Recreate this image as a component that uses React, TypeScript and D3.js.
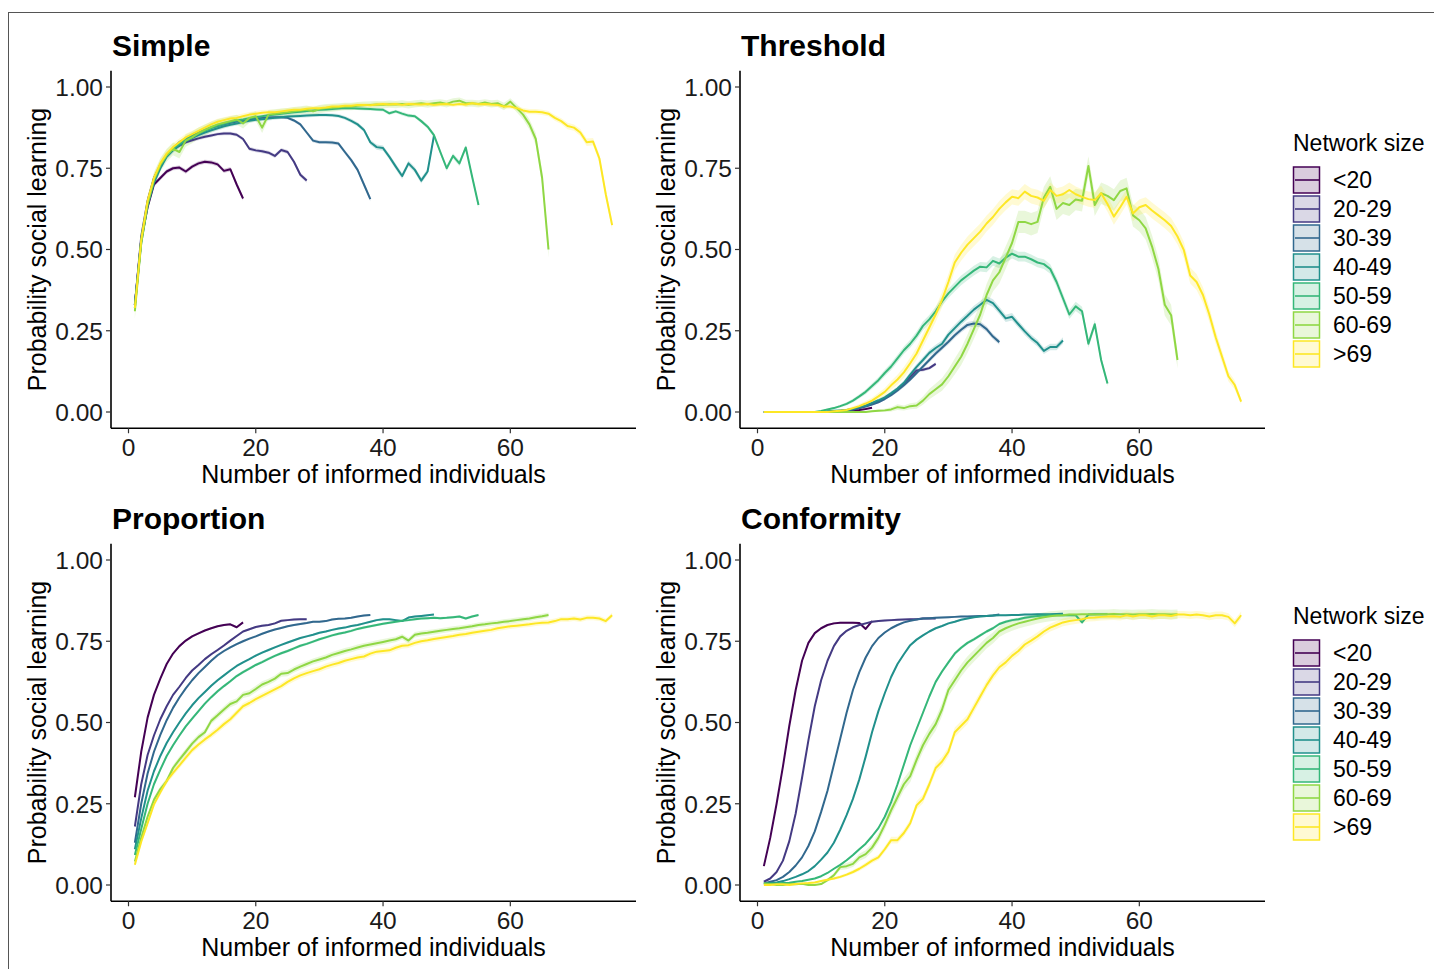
import React from 'react';
import * as d3 from 'd3';

const groups = ['<20', '20-29', '30-39', '40-49', '50-59', '60-69', '>69'];
const colors = ['#440154', '#443A83', '#31688E', '#21908C', '#35B779', '#8FD744', '#FDE725'];
const xTicks = [0, 20, 40, 60];
const yTicks = [0, 0.25, 0.5, 0.75, 1];
const yTickLabels = ['0.00', '0.25', '0.50', '0.75', '1.00'];

// Simple
const simple_lt20 = [0.33,0.53,0.63,0.70,0.72,0.74,0.75,0.752,0.74,0.755,0.765,0.77,0.768,0.762,0.742,0.747,0.70,0.657];
const simple_20_29 = [0.33,0.54,0.65,0.72,0.76,0.79,0.81,0.82,0.83,0.836,0.842,0.847,0.851,0.855,0.857,0.857,0.853,0.84,0.81,0.805,0.802,0.798,0.788,0.806,0.80,0.77,0.73,0.712];
const simple_30_39 = [0.33,0.53,0.64,0.71,0.76,0.79,0.81,0.83,0.84,0.85,0.86,0.868,0.875,0.88,0.885,0.89,0.894,0.897,0.9,0.903,0.905,0.906,0.907,0.907,0.905,0.897,0.885,0.86,0.835,0.83,0.83,0.829,0.826,0.80,0.775,0.745,0.70,0.655];
const simple_40_49 = [0.33,0.52,0.635,0.705,0.75,0.785,0.805,0.82,0.833,0.843,0.852,0.86,0.867,0.873,0.879,0.884,0.888,0.892,0.896,0.899,0.901,0.903,0.905,0.907,0.909,0.91,0.911,0.912,0.913,0.914,0.914,0.913,0.911,0.905,0.896,0.885,0.868,0.83,0.815,0.812,0.785,0.755,0.726,0.765,0.745,0.712,0.74,0.85];
const simple_50_59 = [0.32,0.53,0.645,0.715,0.76,0.79,0.81,0.825,0.838,0.848,0.857,0.866,0.874,0.881,0.887,0.892,0.897,0.9,0.904,0.907,0.91,0.913,0.915,0.918,0.92,0.922,0.924,0.926,0.928,0.93,0.931,0.932,0.934,0.935,0.935,0.934,0.933,0.932,0.931,0.93,0.919,0.925,0.918,0.912,0.91,0.895,0.878,0.852,0.80,0.75,0.788,0.765,0.814,0.724,0.637];
const simple_60_69 = [0.31,0.52,0.64,0.715,0.76,0.79,0.81,0.80,0.835,0.845,0.858,0.868,0.877,0.885,0.89,0.895,0.9,0.888,0.905,0.91,0.875,0.915,0.918,0.92,0.922,0.925,0.928,0.93,0.925,0.932,0.935,0.936,0.938,0.94,0.94,0.942,0.944,0.945,0.946,0.945,0.947,0.946,0.948,0.945,0.948,0.95,0.947,0.95,0.952,0.948,0.955,0.958,0.95,0.95,0.948,0.952,0.948,0.95,0.94,0.955,0.935,0.915,0.885,0.84,0.72,0.50];
const simple_gt69 = [0.32,0.53,0.65,0.72,0.765,0.795,0.815,0.83,0.845,0.855,0.865,0.875,0.885,0.893,0.898,0.903,0.905,0.91,0.915,0.918,0.921,0.922,0.922,0.925,0.928,0.93,0.93,0.933,0.935,0.935,0.937,0.94,0.94,0.942,0.942,0.945,0.945,0.944,0.946,0.948,0.946,0.948,0.945,0.948,0.947,0.946,0.948,0.945,0.947,0.948,0.945,0.948,0.946,0.95,0.947,0.948,0.946,0.945,0.94,0.94,0.935,0.928,0.924,0.924,0.922,0.918,0.905,0.895,0.88,0.875,0.86,0.83,0.832,0.78,0.67,0.575];

// Threshold
const thr_lt20 = [0,0,0,0,0,0,0,0,0,0,0,0,0.001,0.002,0.004,0.006,0.009,0.013];
const thr_20_29 = [0,0,0,0,0,0,0,0,0,0,0,0.002,0.003,0.005,0.008,0.012,0.018,0.025,0.033,0.043,0.055,0.07,0.088,0.108,0.128,0.13,0.135,0.148];
const thr_30_39 = [0,0,0,0,0,0,0,0,0,0,0,0.002,0.003,0.005,0.008,0.012,0.017,0.023,0.03,0.04,0.052,0.066,0.082,0.1,0.12,0.14,0.16,0.18,0.198,0.216,0.236,0.253,0.268,0.272,0.27,0.255,0.232,0.215];
const thr_40_49 = [0,0,0,0,0,0,0,0,0,0,0.002,0.004,0.005,0.006,0.01,0.015,0.02,0.028,0.036,0.045,0.058,0.072,0.09,0.115,0.139,0.16,0.182,0.197,0.21,0.238,0.258,0.278,0.296,0.315,0.33,0.345,0.335,0.312,0.288,0.293,0.27,0.248,0.228,0.212,0.188,0.2,0.2,0.22];
const thr_50_59 = [0,0,0,0,0,0,0,0,0,0.003,0.008,0.012,0.018,0.025,0.035,0.048,0.062,0.08,0.098,0.12,0.14,0.165,0.19,0.21,0.235,0.265,0.285,0.31,0.34,0.365,0.385,0.405,0.42,0.435,0.447,0.445,0.465,0.457,0.475,0.487,0.478,0.478,0.47,0.46,0.455,0.44,0.40,0.35,0.30,0.325,0.31,0.21,0.27,0.16,0.088];
const thr_60_69 = [0,0,0,0,0,0,0,0,0,0,0,0,0,0,0,0,0,0.002,0.004,0.005,0.008,0.015,0.012,0.018,0.02,0.035,0.055,0.07,0.085,0.11,0.14,0.17,0.21,0.255,0.30,0.36,0.405,0.43,0.475,0.52,0.585,0.585,0.578,0.585,0.66,0.693,0.625,0.643,0.637,0.654,0.65,0.757,0.637,0.673,0.665,0.652,0.68,0.688,0.605,0.59,0.565,0.509,0.44,0.33,0.298,0.16];
const thr_gt69 = [0,0,0,0,0,0,0,0,0,0,0,0.002,0.004,0.006,0.012,0.018,0.026,0.035,0.048,0.062,0.082,0.1,0.122,0.15,0.18,0.22,0.26,0.30,0.345,0.40,0.46,0.49,0.515,0.535,0.555,0.58,0.60,0.625,0.645,0.662,0.658,0.678,0.665,0.66,0.65,0.683,0.665,0.67,0.683,0.67,0.662,0.655,0.652,0.673,0.64,0.601,0.63,0.662,0.611,0.63,0.637,0.62,0.605,0.59,0.572,0.54,0.498,0.42,0.40,0.36,0.30,0.23,0.17,0.11,0.083,0.032];

// Proportion
const prop_lt20 = [0.27,0.41,0.515,0.585,0.635,0.68,0.712,0.735,0.752,0.765,0.774,0.783,0.79,0.796,0.80,0.802,0.793,0.808];
const prop_20_29 = [0.18,0.31,0.40,0.46,0.51,0.55,0.585,0.61,0.637,0.66,0.677,0.695,0.71,0.723,0.737,0.752,0.766,0.78,0.787,0.794,0.798,0.80,0.805,0.813,0.815,0.817,0.818,0.818];
const prop_30_39 = [0.13,0.25,0.343,0.41,0.462,0.507,0.545,0.577,0.605,0.63,0.652,0.671,0.69,0.707,0.72,0.731,0.741,0.75,0.758,0.765,0.773,0.78,0.786,0.791,0.796,0.80,0.803,0.806,0.81,0.81,0.812,0.817,0.819,0.82,0.822,0.826,0.829,0.831];
const prop_40_49 = [0.11,0.205,0.29,0.35,0.397,0.437,0.47,0.5,0.528,0.553,0.575,0.594,0.613,0.63,0.645,0.66,0.674,0.685,0.695,0.706,0.715,0.723,0.731,0.739,0.746,0.753,0.76,0.765,0.77,0.776,0.78,0.785,0.789,0.792,0.797,0.80,0.805,0.81,0.815,0.818,0.818,0.815,0.812,0.823,0.826,0.828,0.83,0.832];
const prop_50_59 = [0.092,0.172,0.25,0.31,0.355,0.397,0.43,0.46,0.488,0.512,0.535,0.558,0.578,0.596,0.612,0.627,0.643,0.655,0.666,0.677,0.686,0.696,0.705,0.713,0.72,0.728,0.736,0.742,0.749,0.756,0.762,0.768,0.773,0.777,0.782,0.788,0.792,0.796,0.80,0.804,0.807,0.81,0.813,0.815,0.818,0.82,0.821,0.822,0.821,0.822,0.824,0.826,0.82,0.826,0.831];
const prop_60_69 = [0.072,0.145,0.21,0.262,0.295,0.32,0.36,0.386,0.41,0.435,0.455,0.47,0.505,0.522,0.54,0.557,0.565,0.585,0.59,0.603,0.617,0.625,0.635,0.65,0.652,0.663,0.672,0.68,0.688,0.694,0.70,0.708,0.714,0.72,0.725,0.731,0.736,0.74,0.744,0.748,0.752,0.756,0.764,0.752,0.77,0.774,0.776,0.779,0.782,0.785,0.788,0.79,0.793,0.796,0.80,0.802,0.805,0.807,0.81,0.812,0.815,0.818,0.82,0.824,0.827,0.831];
const prop_gt69 = [0.062,0.133,0.19,0.248,0.285,0.32,0.345,0.368,0.392,0.415,0.432,0.448,0.462,0.478,0.495,0.51,0.53,0.55,0.56,0.572,0.582,0.592,0.602,0.612,0.625,0.636,0.645,0.652,0.658,0.664,0.672,0.678,0.683,0.69,0.695,0.70,0.703,0.712,0.718,0.72,0.722,0.73,0.736,0.738,0.745,0.75,0.753,0.757,0.76,0.763,0.766,0.77,0.772,0.776,0.779,0.782,0.785,0.79,0.793,0.796,0.798,0.80,0.802,0.805,0.807,0.808,0.812,0.818,0.818,0.82,0.817,0.822,0.822,0.82,0.812,0.83];

// Conformity
const conf_lt20 = [0.058,0.145,0.25,0.365,0.49,0.60,0.69,0.745,0.775,0.79,0.80,0.805,0.807,0.807,0.807,0.806,0.788,0.812];
const conf_20_29 = [0.01,0.02,0.04,0.075,0.135,0.22,0.33,0.445,0.55,0.63,0.69,0.735,0.765,0.782,0.793,0.80,0.805,0.81,0.812,0.814,0.815,0.816,0.817,0.818,0.818,0.82,0.82,0.82];
const conf_30_39 = [0.005,0.01,0.015,0.025,0.04,0.06,0.085,0.12,0.165,0.225,0.29,0.37,0.45,0.53,0.60,0.655,0.70,0.735,0.76,0.777,0.79,0.80,0.808,0.813,0.817,0.82,0.821,0.822,0.823,0.824,0.825,0.826,0.826,0.827,0.828,0.828,0.829,0.832];
const conf_40_49 = [0.005,0.006,0.008,0.012,0.018,0.025,0.033,0.043,0.058,0.078,0.10,0.13,0.17,0.215,0.265,0.325,0.395,0.47,0.535,0.59,0.64,0.68,0.71,0.738,0.755,0.768,0.78,0.79,0.797,0.805,0.81,0.816,0.82,0.824,0.826,0.828,0.829,0.83,0.83,0.831,0.831,0.832,0.832,0.833,0.833,0.833,0.834,0.835];
const conf_50_59 = [0.004,0.004,0.005,0.006,0.007,0.01,0.012,0.016,0.02,0.027,0.037,0.05,0.062,0.076,0.092,0.11,0.127,0.15,0.175,0.21,0.255,0.31,0.37,0.43,0.48,0.53,0.58,0.625,0.657,0.685,0.712,0.73,0.745,0.756,0.768,0.78,0.79,0.803,0.81,0.815,0.818,0.822,0.825,0.828,0.829,0.83,0.83,0.83,0.831,0.83,0.808,0.832,0.833,0.833,0.833];
const conf_60_69 = [0.005,0.003,0,0,0.003,0.002,0.004,0,0,0.003,0.015,0.03,0.055,0.058,0.065,0.085,0.095,0.115,0.145,0.185,0.23,0.27,0.31,0.335,0.385,0.43,0.465,0.495,0.54,0.60,0.63,0.66,0.685,0.705,0.725,0.745,0.76,0.78,0.79,0.798,0.805,0.81,0.815,0.82,0.824,0.827,0.829,0.83,0.832,0.832,0.833,0.833,0.832,0.833,0.833,0.834,0.833,0.833,0.832,0.833,0.833,0.834,0.833,0.833,0.832,0.833];
const conf_gt69 = [0,0,0.002,0.002,0,0.003,0.005,0.006,0.008,0.012,0.016,0.02,0.025,0.032,0.04,0.05,0.062,0.075,0.085,0.11,0.138,0.138,0.16,0.19,0.245,0.265,0.31,0.36,0.38,0.41,0.47,0.49,0.51,0.545,0.58,0.615,0.645,0.67,0.685,0.705,0.72,0.74,0.752,0.765,0.78,0.792,0.80,0.808,0.812,0.815,0.818,0.822,0.823,0.825,0.826,0.827,0.825,0.83,0.826,0.83,0.83,0.826,0.83,0.83,0.828,0.832,0.832,0.83,0.832,0.83,0.826,0.83,0.83,0.825,0.805,0.83];

// ribbon scale per group (half-width = k * sqrt(p(1-p)))
const simpleBand = [0.015, 0.015, 0.015, 0.02, 0.02, 0.05, 0.03];
const thrBand = [0.01, 0.015, 0.02, 0.025, 0.03, 0.07, 0.05];
const propBand = [0.008, 0.008, 0.008, 0.008, 0.01, 0.02, 0.02];
const confBand = [0.008, 0.008, 0.008, 0.008, 0.012, 0.04, 0.03];

const panels = [
  { title: 'Simple', series: [simple_lt20, simple_20_29, simple_30_39, simple_40_49, simple_50_59, simple_60_69, simple_gt69], band: simpleBand, left: 111, top: 70.75, legend: false },
  { title: 'Threshold', series: [thr_lt20, thr_20_29, thr_30_39, thr_40_49, thr_50_59, thr_60_69, thr_gt69], band: thrBand, left: 740, top: 70.75, legend: true },
  { title: 'Proportion', series: [prop_lt20, prop_20_29, prop_30_39, prop_40_49, prop_50_59, prop_60_69, prop_gt69], band: propBand, left: 111, top: 543.75, legend: false },
  { title: 'Conformity', series: [conf_lt20, conf_20_29, conf_30_39, conf_40_49, conf_50_59, conf_60_69, conf_gt69], band: confBand, left: 740, top: 543.75, legend: true },
];

const font = '"Liberation Sans", Arial, Helvetica, sans-serif';
const W = 525, H = 357.5;

function Panel({ p }) {
  const x = d3.scaleLinear().domain([-2.75, 79.75]).range([p.left, p.left + W]);
  const y = d3.scaleLinear().domain([-0.05, 1.05]).range([p.top + H, p.top]);
  const line = d3.line().x((d, i) => x(i + 1)).y(d => y(d));
  const area = k => d3.area()
    .x((d, i) => x(i + 1))
    .y0(d => y(Math.max(0, d - k * Math.sqrt(d * (1 - d)))))
    .y1(d => y(d + k * Math.sqrt(d * (1 - d))));
  const bottom = p.top + H;

  return (
    <g>
      <text x={p.left + 1} y={p.top - 15} fontSize={30} fontWeight="bold" fill="#000">{p.title}</text>
      {p.series.map((s, i) => (
        <path key={'r' + i} d={area(p.band[i])(s)} fill={colors[i]} fillOpacity={0.2} stroke="none" />
      ))}
      {p.series.map((s, i) => (
        <path key={'l' + i} d={line(s)} fill="none" stroke={colors[i]} strokeWidth={2} strokeLinejoin="round" />
      ))}
      <line x1={p.left} x2={p.left} y1={p.top} y2={bottom} stroke="#000" strokeWidth={1.6} />
      <line x1={p.left} x2={p.left + W} y1={bottom} y2={bottom} stroke="#000" strokeWidth={1.6} />
      {yTicks.map((t, i) => (
        <g key={'y' + t}>
          <line x1={p.left - 5} x2={p.left} y1={y(t)} y2={y(t)} stroke="#333" strokeWidth={1.2} />
          <text x={p.left - 8} y={y(t)} dy="0.36em" textAnchor="end" fontSize={24.5} fill="#1a1a1a">{yTickLabels[i]}</text>
        </g>
      ))}
      {xTicks.map(t => (
        <g key={'x' + t}>
          <line x1={x(t)} x2={x(t)} y1={bottom} y2={bottom + 5} stroke="#333" strokeWidth={1.2} />
          <text x={x(t)} y={bottom + 27.5} textAnchor="middle" fontSize={24.5} fill="#1a1a1a">{t}</text>
        </g>
      ))}
      <text x={p.left + W / 2} y={bottom + 55} textAnchor="middle" fontSize={25} fill="#000">Number of informed individuals</text>
      <text transform={`translate(${p.left - 65},${p.top + H / 2}) rotate(-90)`} textAnchor="middle" fontSize={25} fill="#000">Probability social learning</text>
      {p.legend && (
        <g>
          <text x={1293} y={p.top + 80.5} fontSize={23} fill="#000">Network size</text>
          {groups.map((g, i) => {
            const cy = p.top + 109.25 + i * 29;
            return (
              <g key={g}>
                <rect x={1293.5} y={cy - 13} width={26} height={26} fill={colors[i]} fillOpacity={0.2} stroke={colors[i]} strokeWidth={1.5} />
                <line x1={1295} x2={1319} y1={cy} y2={cy} stroke={colors[i]} strokeWidth={1.6} />
                <text x={1333} y={cy} dy="0.36em" fontSize={23} fill="#000">{g}</text>
              </g>
            );
          })}
        </g>
      )}
    </g>
  );
}

export default function App() {
  return (
    <svg width={1434} height={969} style={{ position: 'absolute', left: 0, top: 0, background: '#fff' }} fontFamily={font}>
      <rect x={0} y={0} width={1434} height={969} fill="#fff" />
      <rect x={8.5} y={12.5} width={1440} height={980} fill="none" stroke="#555" strokeWidth={1} />
      {panels.map(p => <Panel key={p.title} p={p} />)}
    </svg>
  );
}
